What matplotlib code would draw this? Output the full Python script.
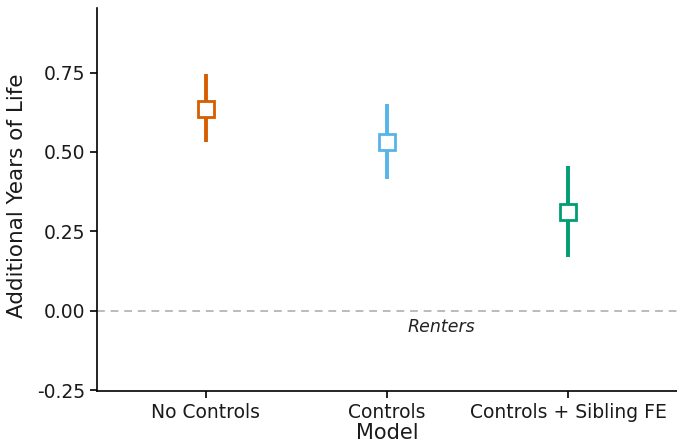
import matplotlib
matplotlib.use("Agg")
import matplotlib.pyplot as plt

# ── data ──────────────────────────────────────────────────────────────────────
models = ["No Controls", "Controls", "Controls + Sibling FE"]
estimates = [0.635, 0.531, 0.312]
ci_low = [0.530, 0.415, 0.170]
ci_high = [0.745, 0.651, 0.456]
colors = ["#D55E00", "#56B4E9", "#009E73"]

fig = plt.figure(figsize=(6.77, 4.44), dpi=100)
ax = fig.add_axes([0.1433, 0.1194, 0.8567, 0.8626])

xs = list(range(1, len(models) + 1))
for x, est, lo, hi, c in zip(xs, estimates, ci_low, ci_high, colors):
    ax.plot([x, x], [lo, hi], color=c, lw=2.8, solid_capstyle="butt", zorder=2)
    ax.plot(x, est, marker="s", ms=11, mfc="white", mec=c, mew=2.0, zorder=3)

ax.axhline(0.0, color="#bbbbbb", ls=(0, (4, 3)), lw=1.4, zorder=1)
ax.text(2.3, -0.05, "Renters", style="italic", fontsize=12.5,
        ha="center", va="center", color="#222222")

ax.set_xlim(0.4, 3.6)
ax.set_ylim(-0.252, 0.953)
ax.set_xticks(xs)
ax.set_xticklabels(models)
ax.set_yticks([-0.25, 0.0, 0.25, 0.5, 0.75])
ax.set_yticklabels(["-0.25", "0.00", "0.25", "0.50", "0.75"])
ax.tick_params(labelsize=13.5, length=5, width=1.2, colors="black",
               labelcolor="#1a1a1a")
ax.set_xlabel("Model", fontsize=15, labelpad=1, color="#1a1a1a")
ax.set_ylabel("Additional Years of Life", fontsize=15.5, color="#1a1a1a")
ax.yaxis.set_label_coords(-0.12, 0.51)
for side in ("top", "right"):
    ax.spines[side].set_visible(False)
for side in ("left", "bottom"):
    ax.spines[side].set_linewidth(1.2)

fig.savefig("out.png", dpi=100)
